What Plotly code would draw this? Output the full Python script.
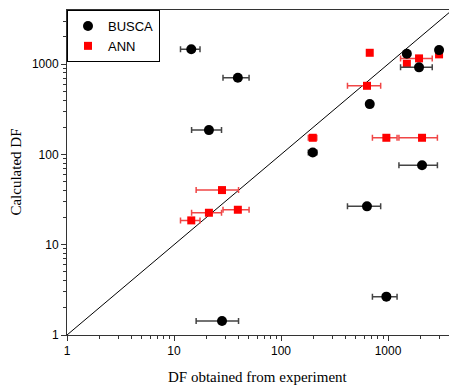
import plotly.graph_objects as go

# Experimental DF (shared x for both models) and its uncertainty
df_experiment = [14.5, 39.5, 21.2, 198, 675, 1500, 1950, 3000, 2080, 636, 965, 28.1]
df_experiment_err = [3.0, 10.8, 6.6, 18, None, None, 640, None, 815, 218, 250, 12.0]

# Calculated DF
busca_df = [1460, 707, 186, 105, 361, 1303, 922, 1432, 76, 26.6, 2.66, 1.43]
ann_df = [18.6, 24.4, 22.6, 153, 1337, 1010, 1159, 1284, 153, 576, 153, 40.3]

diag = [1, 10000]

SERIF = "Liberation Serif, Times New Roman, serif"
SANS = "Liberation Sans, Arial, sans-serif"

fig = go.Figure()

fig.add_trace(go.Scatter(
    x=diag, y=diag, mode="lines", line=dict(color="black", width=1),
    showlegend=False, hoverinfo="skip"))

fig.add_trace(go.Scatter(
    x=df_experiment, y=ann_df, mode="markers", name="ANN", legendrank=2,
    marker=dict(symbol="square", size=8, color="#ff0000"),
    error_x=dict(type="data", array=df_experiment_err, color="rgb(240,70,70)",
                 thickness=1.5, width=3)))

fig.add_trace(go.Scatter(
    x=df_experiment, y=busca_df, mode="markers", name="BUSCA", legendrank=1,
    marker=dict(symbol="circle", size=10, color="black"),
    error_x=dict(type="data", array=df_experiment_err, color="#444444",
                 thickness=1.5, width=3)))

axis_common = dict(
    type="log", showgrid=False, zeroline=False, automargin=False,
    showline=True, linecolor="#333333", linewidth=1,
    ticks="outside", ticklen=5, tickcolor="#333333",
    tickmode="linear", tick0=0, dtick=1, exponentformat="none",
    tickfont=dict(family=SANS, size=12, color="black"),
    minor=dict(ticks="outside", ticklen=3, tickcolor="#333333",
               dtick="D1", showgrid=False),
)

fig.update_layout(
    width=450, height=385,
    margin=dict(l=67, r=1, t=10, b=50, autoexpand=False),
    paper_bgcolor="white", plot_bgcolor="white",
    xaxis=dict(axis_common, range=[0, 3.57], mirror=True),
    yaxis=dict(axis_common, range=[0, 3.6]),
    legend=dict(x=0, y=1, xanchor="left", yanchor="top",
                bordercolor="black", borderwidth=1, bgcolor="white",
                font=dict(family=SANS, size=13, color="black"),
                tracegroupgap=0, itemwidth=30),
    showlegend=True,
    annotations=[
        dict(text="DF obtained from experiment", xref="paper", yref="paper",
             x=0.5, y=-0.128, xanchor="center", yanchor="middle", showarrow=False,
             font=dict(family=SERIF, size=15, color="black")),
        dict(text="Calculated DF", xref="paper", yref="paper",
             x=-0.136, y=0.5, xanchor="center", yanchor="middle", showarrow=False,
             textangle=-90, font=dict(family=SERIF, size=15, color="black")),
    ],
)

fig.write_html("out.html", config={"staticPlot": True},
               post_script="document.body.style.margin='0';document.body.style.padding='0';")
